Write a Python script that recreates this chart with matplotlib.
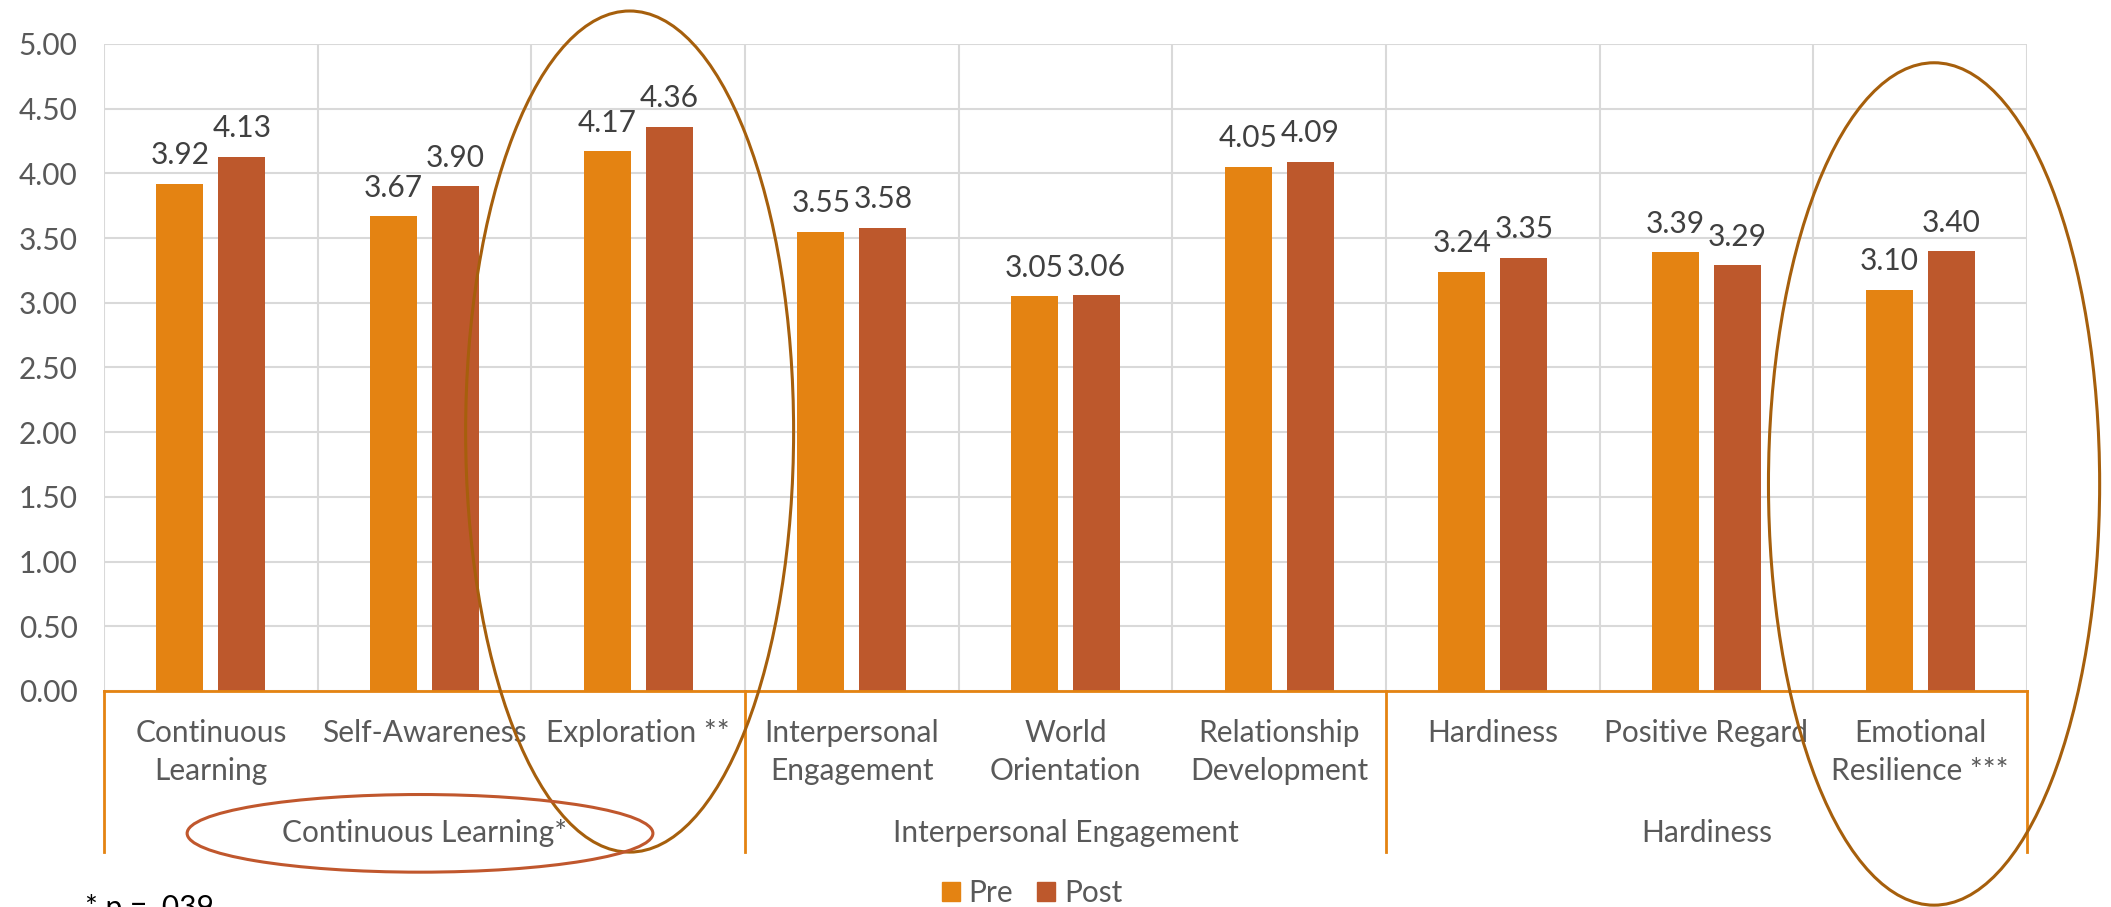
import numpy as np
import matplotlib
matplotlib.use("Agg")
import matplotlib.pyplot as plt
from matplotlib.patches import Ellipse, Patch
from matplotlib.ticker import FormatStrFormatter

plt.rcParams['font.family'] = ['Lato', 'DejaVu Sans']

# Данные
categories = ["Continuous\nLearning", "Self-Awareness", "Exploration **",
              "Interpersonal\nEngagement", "World\nOrientation", "Relationship\nDevelopment",
              "Hardiness", "Positive Regard", "Emotional\nResilience ***"]
groups = ["Continuous Learning*", "Interpersonal Engagement", "Hardiness"]
group_sizes = [3, 3, 3]
series_names = ["Pre", "Post"]
pre = [3.92, 3.67, 4.17, 3.55, 3.05, 4.05, 3.24, 3.39, 3.10]
post = [4.13, 3.90, 4.36, 3.58, 3.06, 4.09, 3.35, 3.29, 3.40]
yticks = np.arange(0, 5.01, 0.5)
footnote = "* p = .039"

# Стиль
c_pre = "#E48312"
c_post = "#BD582C"
c_ring = "#A65F0C"
c_ring2 = "#C0572D"
c_grid = "#D9D9D9"
c_text = "#595959"
fs = 21.5

W, H = 2111, 907
fig = plt.figure(figsize=(W / 100, H / 100), dpi=100)
ax = fig.add_axes([104 / W, 1 - 691 / H, (2027 - 104) / W, (691 - 44) / H])

x = np.arange(len(categories))
bw = 0.22
off = 0.145
ax.bar(x - off, pre, bw, color=c_pre, zorder=3)
ax.bar(x + off, post, bw, color=c_post, zorder=3)

for xs, vals in ((x - off, pre), (x + off, post)):
    for xi, v in zip(xs, vals):
        ax.annotate(f"{v:.2f}", (xi, v), xytext=(0, 14), textcoords="offset points",
                    ha="center", va="baseline", fontsize=fs, color="#404040")

ax.set_xlim(-0.5, len(categories) - 0.5)
ax.set_ylim(0, 5)
ax.set_yticks(yticks)
ax.yaxis.set_major_formatter(FormatStrFormatter("%.2f"))
ax.tick_params(axis="y", length=0, pad=19, labelsize=fs, labelcolor=c_text)
ax.set_xticks([])
ax.set_xticks(np.arange(-0.5, len(categories), 1), minor=True)
ax.tick_params(axis="x", which="both", length=0, labelbottom=False)
ax.grid(axis="y", color=c_grid, lw=1.5, zorder=0)
ax.grid(axis="x", which="minor", color=c_grid, lw=1.5, zorder=0)
ax.set_axisbelow(True)
for s in ("top", "left", "right"):
    ax.spines[s].set_visible(False)
ax.spines["bottom"].set_color(c_pre)
ax.spines["bottom"].set_linewidth(2)
ax.spines["bottom"].set_zorder(4)

# подписи категорий (двухуровневая ось)
for xi, lab in zip(x, categories):
    for k, line in enumerate(lab.split("\n")):
        ax.text(xi, -0.394 - 0.294 * k, line, ha="center", va="baseline",
                fontsize=fs, color=c_text, clip_on=False)

bounds = np.concatenate([[0], np.cumsum(group_sizes)]) - 0.5
for b in bounds:
    ax.plot([b, b], [0, -1.244], color=c_pre, lw=2, clip_on=False)
for g, a, b in zip(groups, bounds[:-1], bounds[1:]):
    ax.text((a + b) / 2, -1.167, g, ha="center", va="baseline",
            fontsize=fs, color=c_text, clip_on=False)

# выделение овалами
ax.add_patch(Ellipse((1.96, 2.005), 1.535, 6.50, fill=False, ec=c_ring, lw=2.2,
                     clip_on=False, zorder=10))
ax.add_patch(Ellipse((8.065, 1.60), 1.55, 6.51, fill=False, ec=c_ring, lw=2.2,
                     clip_on=False, zorder=10))
ax.add_patch(Ellipse((0.979, -1.10), 2.18, 0.60, fill=False, ec=c_ring2, lw=2.2,
                     clip_on=False, zorder=10))

handles = [Patch(color=c_pre), Patch(color=c_post)]
fig.legend(handles, series_names, loc="center", bbox_to_anchor=(1032 / W, 1 - 893 / H),
           ncol=2, frameon=False, fontsize=fs, handlelength=0.6, handleheight=0.6,
           handletextpad=0.3, columnspacing=0.8, labelcolor=c_text)

fig.text(85 / W, 1 - 917 / H, footnote, fontsize=fs, color="#000000", va="baseline")

fig.savefig("out.png", dpi=100)
